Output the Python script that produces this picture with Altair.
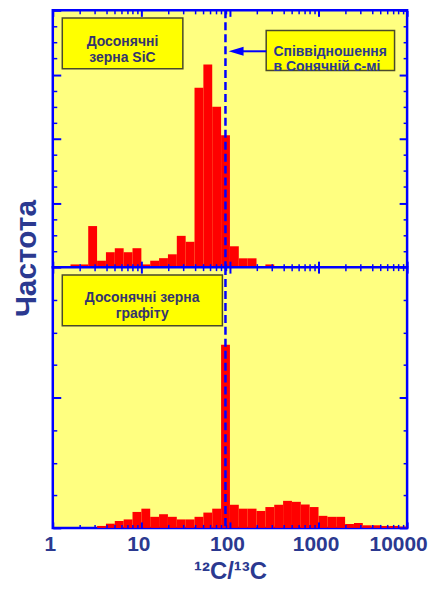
import altair as alt
import pandas as pd

# ---- data (histogram bins are 0.1 dex wide in log10(12C/13C)) ----
sic_bin_log = [0.2, 0.3, 0.4, 0.5, 0.6, 0.7, 0.8, 0.9, 1.0, 1.1, 1.2, 1.3, 1.4, 1.5,
               1.6, 1.7, 1.8, 1.9, 2.0, 2.1, 2.2, 2.3, 2.4]
sic_counts = [0.17, 0.17, 2.56, 0.40, 0.93, 1.18, 0.93, 1.18, 0.17, 0.40, 0.56, 0.80, 1.95, 1.58,
              11.18, 12.62, 10.0, 8.22, 1.3, 0.55, 0.55, 0.0, 0.17]

gr_bin_log = [0.5, 0.6, 0.7, 0.8, 0.9, 1.0, 1.1, 1.2, 1.3, 1.4, 1.5, 1.6, 1.7, 1.8, 1.9,
              2.0, 2.1, 2.2, 2.3, 2.4, 2.5, 2.6, 2.7, 2.8, 2.9, 3.0, 3.1, 3.2, 3.3, 3.4,
              3.5, 3.6, 3.7, 3.8, 3.9]
gr_counts = [0.06, 0.13, 0.21, 0.26, 0.49, 0.59, 0.34, 0.42, 0.34, 0.26, 0.26, 0.34, 0.47, 0.59, 5.62,
             0.71, 0.59, 0.59, 0.52, 0.64, 0.71, 0.83, 0.80, 0.72, 0.64, 0.37, 0.34, 0.34, 0.12, 0.15,
             0.08, 0.08, 0.06, 0.06, 0.04]
bin_width_log = 0.1
solar_ratio = 89

x_major = [1, 10, 100, 1000, 10000]
x_minor = [m * 10 ** e for e in range(4) for m in range(2, 10)]
top_y_major = [0, 4, 8, 12, 16]
top_y_minor = [v for v in range(0, 17) if v % 4]
bot_y_major = [0, 4, 8]
bot_y_minor = [v for v in range(0, 9) if v % 4]

# annotation boxes (x in ratio units, y in panel count units)
box_sic = {"x": 1.28, "x2": 29.4, "y": 12.36, "y2": 15.52}
box_solar = {"x": 256.6, "x2": 7217, "y": 12.26, "y2": 14.74}
box_gr = {"x": 1.28, "x2": 82.2, "y": 6.2, "y2": 7.76}
txt_sic = {"x": 6.12, "y": 14.02, "t": "Досонячні\nзерна SiC"}
txt_solar = {"x": 310, "y": 13.43, "t": "Співвідношення\nв Сонячній с-мі"}
txt_gr = {"x": 10.2, "y": 7.04, "t": "Досонячні зерна\nграфіту"}
arrow = {"x": 117.4, "x2": 256.6, "y": 13.45}

FONT = "Liberation Sans"
BLUE = "#0000FF"
NAVY = "#2B3990"
RED = "#FF0000"
PANEL_BG = "#FFFF80"
BOX_FILL = "#FFFF00"
BOX_TEXT = "#34346E"

xscale = alt.Scale(type="log", domain=[1, 10000], nice=False)


def hist_df(bins, counts):
    return pd.DataFrame({
        "lo": [10 ** b for b in bins],
        "hi": [10 ** (b + bin_width_log) for b in bins],
        "count": counts,
    })


def tick_axis(orient, values, size, width, **kw):
    kw.setdefault("minExtent", 0)
    return alt.Axis(orient=orient, values=values, tickSize=size, tickWidth=width,
                    offset=-size, domain=False, grid=False, ticks=True, tickColor=BLUE,
                    zindex=1, title=kw.pop("title", None), labels=kw.pop("labels", False), **kw)


def panel(df, ymax, height, y_major, y_minor, bottom_major_axis, boxes, texts, extra=None):
    yscale = alt.Scale(domain=[0, ymax], nice=False)
    base = alt.Chart(df)

    def lay(opacity, xax, yax):
        return base.mark_bar(color=RED, opacity=opacity).encode(
            x=alt.X("lo:Q", scale=xscale, axis=xax),
            x2="hi:Q",
            y=alt.Y("count:Q", scale=yscale, axis=yax),
            y2=alt.datum(0),
        )

    l1 = lay(1, bottom_major_axis, tick_axis("left", y_major, 8, 2))
    l2 = lay(0, tick_axis("bottom", x_minor, 3.5, 1.5), tick_axis("left", y_minor, 4, 1.5))
    l3 = lay(0, tick_axis("top", x_major, 6, 2), tick_axis("right", y_major, 8, 2))
    l4 = lay(0, tick_axis("top", x_minor, 3.5, 1.5), tick_axis("right", y_minor, 4, 1.5))

    solar = alt.Chart(pd.DataFrame({"r": [solar_ratio]})).mark_rule(
        color=BLUE, strokeWidth=2.5, strokeDash=[8, 4]
    ).encode(x=alt.X("r:Q", scale=xscale, axis=None))

    layers = [l1, l2, l3, l4, solar]
    for b in boxes:
        layers.append(alt.Chart(pd.DataFrame([b])).mark_rect(
            fill=BOX_FILL, stroke="#4A4A2A", strokeWidth=1.5
        ).encode(
            x=alt.X("x:Q", scale=xscale, axis=None), x2="x2:Q",
            y=alt.Y("y:Q", scale=yscale, axis=None), y2="y2:Q",
        ))
    for t, align, color in texts:
        layers.append(alt.Chart(pd.DataFrame([t])).mark_text(
            font=FONT, fontSize=14, fontWeight="bold", color=color, align=align,
            baseline="middle", lineBreak="\n", lineHeight=15.5
        ).encode(
            x=alt.X("x:Q", scale=xscale, axis=None),
            y=alt.Y("y:Q", scale=yscale, axis=None),
            text="t:N",
        ))
    if extra:
        layers += [e(yscale) for e in extra]
    return alt.layer(*layers).resolve_axis(x="independent", y="independent").properties(
        width=356, height=height
    )


def arrow_line(yscale):
    return alt.Chart(pd.DataFrame([arrow])).mark_rule(color=BLUE, strokeWidth=2).encode(
        x=alt.X("x:Q", scale=xscale, axis=None), x2="x2:Q",
        y=alt.Y("y:Q", scale=yscale, axis=None),
    )


def arrow_head(yscale):
    return alt.Chart(pd.DataFrame([arrow])).mark_point(
        shape="M-1,0L1,-0.6L1,0.6Z", filled=True, color=BLUE, opacity=1, size=225
    ).encode(
        x=alt.X("x:Q", scale=xscale, axis=None),
        y=alt.Y("y:Q", scale=yscale, axis=None),
    )


top = panel(
    hist_df(sic_bin_log, sic_counts), 16, 258, top_y_major, top_y_minor,
    tick_axis("bottom", x_major, 6, 2),
    [box_sic, box_solar],
    [(txt_sic, "center", BOX_TEXT), (txt_solar, "left", NAVY)],
    extra=[arrow_line, arrow_head],
)

bottom_axis = tick_axis(
    "bottom", x_major, 6, 2, labels=True, title="¹²C/¹³C", format="d",
    labelFont=FONT, labelFontSize=21, labelFontWeight="bold", labelColor=NAVY,
    labelPadding=6, labelFlush=False, labelOverlap=False,
    labelOffset={"condition": {"test": "datum.value >= 10000", "value": -9}, "value": -3},
    titleFont=FONT, titleFontSize=24, titleFontWeight="bold", titleColor=NAVY, titlePadding=5,
)

bottom = panel(
    hist_df(gr_bin_log, gr_counts), 8, 262, bot_y_major, bot_y_minor,
    bottom_axis,
    [box_gr],
    [(txt_gr, "center", BOX_TEXT)],
)

chart = alt.vconcat(top, bottom, spacing=0, bounds="flush").properties(
    title=alt.TitleParams(text="Частота", orient="left", anchor="middle", font=FONT,
                          fontSize=30, fontWeight="bold", color=NAVY, offset=1, dx=38),
    padding={"left": 3, "top": -2, "right": 0, "bottom": 0},
    background="white",
).configure_view(fill=PANEL_BG, stroke=BLUE, strokeWidth=2.5)

chart.save("out.html", embed_options={"renderer": "svg", "actions": False})
